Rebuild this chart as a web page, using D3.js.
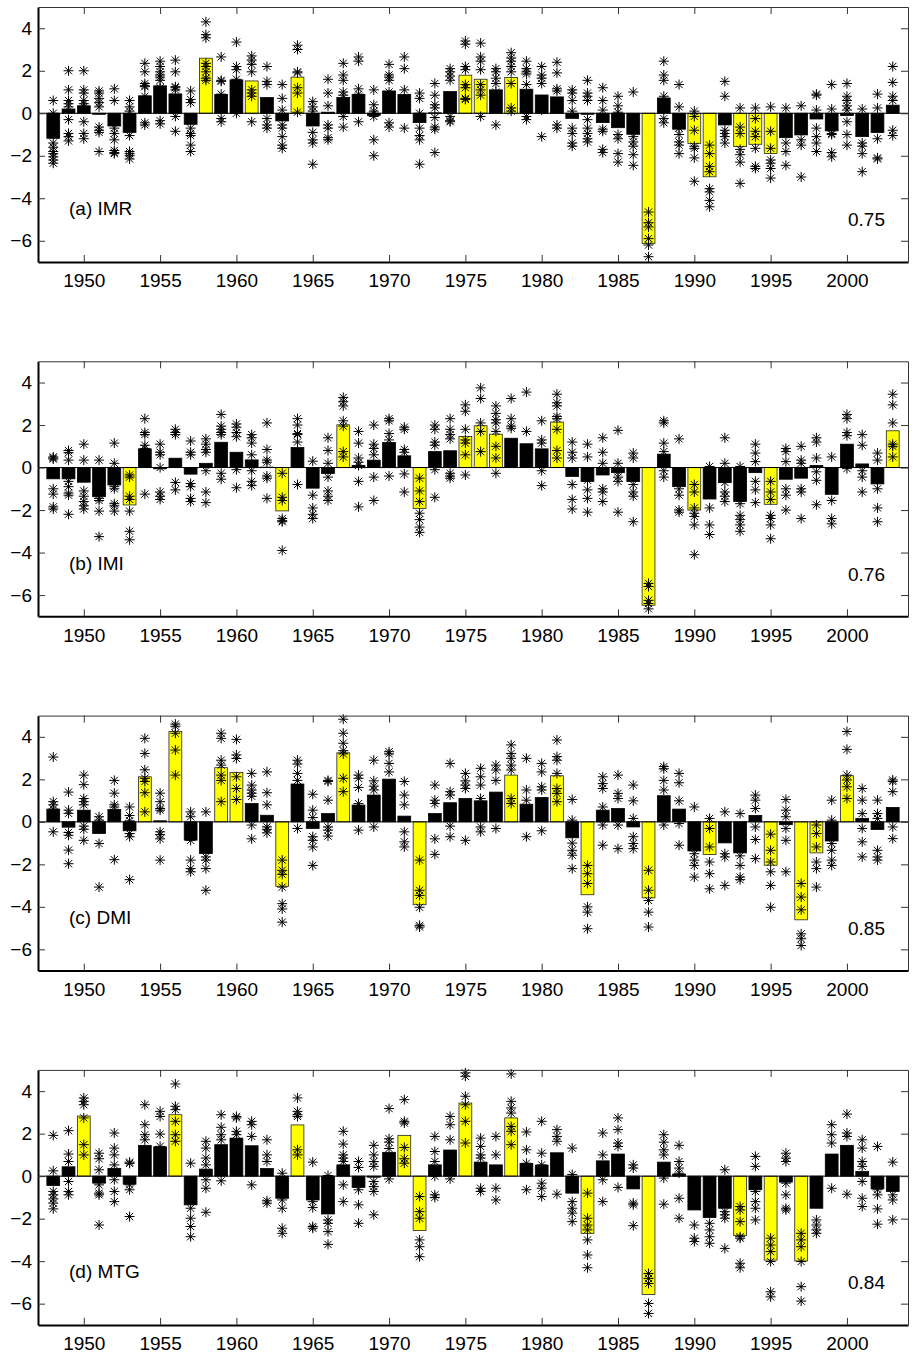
<!DOCTYPE html>
<html>
<head>
<meta charset="utf-8">
<script src="https://cdn.jsdelivr.net/npm/d3@7"></script>
<style>
body { margin: 0; background: #fff; }
svg { display: block; }
text { font-family: "Liberation Sans", Arial, Helvetica, sans-serif; }
</style>
</head>
<body>
<svg id="chart" width="914" height="1353"></svg>
<script>
// Years and axis ticks
var YEARS = d3.range(1948, 2004);
var X_TICKS = [1950, 1955, 1960, 1965, 1970, 1975, 1980, 1985, 1990, 1995, 2000];
var Y_TICKS = [-6, -4, -2, 0, 2, 4];

var PANEL_LABELS = ["(a) IMR", "(b) IMI", "(c) DMI", "(d) MTG"];
var SCORES = ["0.75", "0.76", "0.85", "0.84"];

// Observed index (bars), 1948-2003
var imrBars = [-1.18, 0.2, 0.35, -0.05, -0.6, -0.9, 0.82, 1.29, 0.91, -0.52,
  2.59, 0.88, 1.57, 1.52, 0.74, -0.36, 1.7, -0.6, 0.05, 0.74,
  0.88, -0.1, 1.05, 0.88, -0.44, 0.02, 1.02, 1.79, 1.6, 1.1,
  1.68, 1.13, 0.86, 0.77, -0.24, -0.05, -0.44, -0.68, -0.99, -6.13,
  0.72, -0.75, -1.42, -2.99, -0.55, -1.57, -1.46, -1.89, -1.15, -1.02,
  -0.27, -0.83, -0.11, -1.1, -0.91, 0.38];
var imiBars = [-0.53, -0.53, -0.69, -1.37, -0.82, -1.76, 0.88, -0.06, 0.44, -0.31,
  0.2, 1.19, 0.72, 0.36, 0.02, -2.04, 0.94, -0.97, -0.28, 2.01,
  0.1, 0.35, 1.18, 0.55, -1.92, 0.75, 0.79, 1.46, 1.97, 1.57,
  1.38, 1.12, 0.88, 2.14, -0.42, -0.66, -0.35, -0.24, -0.66, -6.48,
  0.63, -0.9, -2.0, -1.48, -0.71, -1.6, -0.24, -1.73, -0.55, -0.5,
  0.1, -1.26, 1.1, 0.17, -0.77, 1.73];
var dmiBars = [0.6, -0.25, 0.55, -0.55, 0.58, -0.42, 2.12, 0.05, 4.25, -0.86,
  -1.49, 2.55, 2.33, 0.86, 0.31, -3.03, 1.78, -0.31, 0.39, 3.25,
  0.79, 1.26, 2.01, 0.27, -3.9, 0.39, 0.9, 1.1, 0.99, 1.4,
  2.2, 0.83, 1.15, 2.17, -0.75, -3.43, 0.55, 0.63, -0.24, -3.58,
  1.23, 0.6, -1.37, -1.54, -0.99, -1.46, 0.3, -2.04, -0.13, -4.61,
  -1.46, -0.9, 2.17, 0.16, -0.36, 0.68];
var mtgBars = [-0.44, 0.44, 2.83, -0.33, 0.36, -0.38, 1.45, 1.38, 2.89, -1.35,
  0.33, 1.48, 1.79, 1.43, 0.36, -1.04, 2.41, -1.12, -1.78, 0.53,
  -0.53, -0.05, 1.12, 1.92, -2.56, 0.53, 1.23, 3.44, 0.66, 0.53,
  2.74, 0.6, 0.52, 1.1, -0.8, -2.69, 0.72, 1.04, -0.6, -5.57,
  0.66, 0.1, -1.59, -1.95, -1.51, -2.8, -0.64, -3.95, -0.28, -3.99,
  -1.51, 1.04, 1.45, 0.22, -0.6, -0.72];

// Highlighted (yellow) years
var imrYellow = [1958, 1961, 1964, 1975, 1976, 1978, 1987, 1990, 1991, 1993, 1994, 1995];
var imiYellow = [1953, 1963, 1967, 1972, 1975, 1976, 1977, 1981, 1987, 1990, 1995, 2003];
var dmiYellow = [1954, 1956, 1959, 1960, 1963, 1967, 1972, 1978, 1981, 1983, 1987, 1991, 1995, 1997, 1998, 2000];
var mtgYellow = [1950, 1956, 1964, 1971, 1972, 1975, 1978, 1983, 1987, 1993, 1995, 1997];

// Ensemble members (asterisks), one list per year 1948-2003
var imrMembers = [
  [0.6,0.0,-1.4,-1.6,-1.8,-1.9,-2.05,-2.2,-2.35], [2.0,1.1,0.6,0.45,0.3,-0.3,-0.95,-1.1,-1.3],
  [2.0,1.1,0.95,0.6,0.45,0.3,-0.4,-0.95,-1.2], [1.05,0.95,0.7,0.5,0.3,-0.65,-0.8,-0.9,-1.8],
  [1.15,0.6,-0.7,-0.95,-1.25,-1.75,-1.85,-1.9], [0.6,0.3,0.1,-1.05,-1.8,-1.9,-2.0,-2.15],
  [2.35,1.95,1.4,1.3,1.25,0.8,-0.45,-0.55], [2.45,2.2,1.95,1.8,1.7,1.55,1.2,-0.35,-0.5],
  [2.5,1.95,1.25,1.2,1.1,0.5,-0.15,-0.85], [1.05,0.65,0.5,-0.7,-0.95,-1.05,-1.5,-1.8],
  [4.3,3.7,3.55,2.35,2.2,1.95,1.65,1.55], [2.65,1.55,1.5,0.9,0.3,-0.25,-0.4],
  [3.35,2.2,2.05,1.6,1.2,0.8,0.0], [2.7,2.5,2.3,1.95,1.1,0.95,0.8,-0.4],
  [2.2,1.5,1.35,0.3,-0.25,-0.55,-0.7], [1.35,0.7,0.15,-0.55,-0.7,-1.1,-1.5,-1.65],
  [3.2,3.0,1.95,1.9,1.2,0.95,0.05], [0.55,0.3,0.1,-0.9,-1.25,-1.4,-2.4],
  [1.6,0.95,0.35,-0.55,-0.7,-1.15,-1.25], [2.35,1.8,1.55,1.0,0.85,-0.15,-0.65],
  [2.65,2.45,1.15,0.9,0.5,-0.4], [1.1,0.4,0.1,0.0,-0.15,-1.25,-2.0],
  [2.3,1.8,1.7,1.55,1.0,-0.45,-0.65], [2.65,2.1,1.1,0.5,-0.7],
  [0.95,0.7,0.0,-0.7,-1.05,-1.25,-2.4], [1.4,0.85,0.4,0.25,-0.2,-0.65,-0.75,-1.85],
  [2.1,1.95,1.75,1.55,-0.15,-0.35,-0.4], [3.4,3.25,2.2,2.05,1.35,1.2,0.7,0.65],
  [3.3,2.65,2.45,2.05,1.35,1.1,0.85,-0.15], [2.1,1.95,1.65,1.4,1.0,-0.55],
  [2.85,2.6,2.45,2.2,1.95,1.4,0.25,0.1], [2.45,2.1,1.95,1.85,1.35,-0.15,-0.3],
  [2.2,1.8,1.65,1.4,0.5,0.15,-1.1], [2.4,1.9,1.15,1.05,-0.55,-0.7],
  [1.1,0.95,0.6,0.1,-0.7,-0.95,-1.4,-1.55], [1.55,0.95,0.8,0.6,-0.3,-0.7,-0.95,-1.2,-1.35],
  [1.2,0.6,0.15,-0.75,-0.85,-1.7,-1.85], [0.8,0.35,0.05,-1.0,-1.2,-1.9,-2.3],
  [1.0,-1.1,-1.35,-1.55,-1.95,-2.45], [-4.65,-5.15,-5.35,-5.9,-6.2,-6.75],
  [2.45,1.8,1.55,0.8,-0.25,-0.45], [1.35,0.3,-0.7,-1.0,-1.35,-1.5,-1.9],
  [0.1,-0.15,-0.8,-1.55,-1.65,-2.1,-3.2], [-1.5,-1.9,-2.5,-2.75,-3.55,-3.7,-4.1,-4.4],
  [1.5,0.8,-0.8,-0.95,-1.1,-1.4], [0.25,-0.65,-0.95,-1.7,-1.95,-2.3,-3.3],
  [0.25,-0.25,-0.85,-1.1,-1.65,-2.5,-2.6], [0.3,-0.85,-1.65,-2.2,-2.35,-2.6,-3.05],
  [0.25,-0.5,-1.4,-1.8,-2.45], [0.35,-0.5,-1.25,-1.5,-3.0],
  [0.9,0.85,0.15,-0.7,-1.1,-1.4,-1.8], [1.35,0.2,-0.95,-1.0,-1.85,-2.05],
  [1.4,0.8,0.6,0.35,0.15,-0.4,-1.0,-1.5], [0.2,-1.4,-1.55,-1.9,-2.75],
  [0.9,0.25,-1.2,-2.1,-2.15], [2.2,1.45,0.8,0.6,-0.8,-1.05]
];
var imiMembers = [
  [0.5,0.45,0.4,-1.0,-1.25,-1.85,-1.95], [0.8,0.7,0.35,-0.65,-0.9,-1.2,-1.3,-2.2],
  [1.1,0.35,-1.1,-1.35,-1.6,-1.8,-1.95], [0.35,-1.0,-1.45,-1.55,-2.05,-3.25],
  [1.15,0.2,-0.9,-1.0,-1.7,-1.8,-2.05], [-0.35,-0.45,-1.35,-1.5,-2.05,-3.0,-3.4],
  [2.3,1.65,1.55,1.05,0.9,-1.25], [1.1,0.72,0.6,0.0,-1.15,-1.35,-1.5],
  [1.8,1.65,1.55,-0.7,-1.05], [1.25,0.72,0.6,-0.75,-0.9,-1.45,-1.6],
  [1.35,1.1,0.85,0.72,-0.15,-1.15,-1.65], [2.5,1.95,1.8,1.65,1.55,-0.27,-0.55],
  [2.05,1.9,1.65,1.45,-0.1,-0.95], [1.55,1.4,1.15,0.6,-0.15,-0.65,-0.85],
  [2.1,0.85,0.35,0.25,-0.4,-0.5,-1.45], [-0.27,-1.4,-1.55,-2.4,-2.5,-2.55,-3.9],
  [2.3,2.0,1.6,1.55,1.2,-0.8], [0.3,-0.5,-1.3,-1.9,-2.2,-2.4],
  [1.4,0.8,0.2,-0.45,-1.1,-1.35,-1.55], [3.3,3.1,2.9,2.2,1.95,0.75,0.5],
  [1.7,1.15,0.45,0.25,0.1,-0.65,-1.85], [2.0,1.1,0.9,0.6,-0.45,-1.55],
  [2.3,2.2,1.6,1.3,-0.4], [1.9,1.8,0.85,0.72,-0.3,-1.15],
  [-0.5,-1.1,-1.6,-2.15,-2.45,-2.8,-3.05], [2.0,1.8,1.2,1.05,-0.1,-1.4],
  [2.3,1.8,1.55,1.35,-0.27,-0.4,-0.5], [2.95,2.65,1.8,1.3,1.15,0.6,-0.35],
  [3.75,3.25,2.1,1.7,0.75], [2.9,2.55,2.25,2.1,1.7,1.0,0.45,-0.27],
  [3.25,2.3,1.95,1.85,0.5], [3.55,1.7,0.5],
  [2.2,1.3,1.15,-0.15,-0.85], [3.45,3.05,2.9,2.4,2.3,1.8,0.8,0.45],
  [1.2,0.72,0.45,-0.8,-1.5,-1.95], [1.1,0.5,-0.6,-1.05,-1.45,-2.1],
  [1.4,0.72,0.2,-1.0,-1.15,-1.6], [1.75,0.2,-0.2,-0.45,-0.65,-2.1],
  [0.68,0.45,-0.8,-1.15,-1.35,-2.55], [-5.45,-5.6,-6.25,-6.4,-6.65],
  [2.2,2.1,1.15,0.75,-0.15,-0.45], [1.35,-1.0,-1.3,-2.0,-2.1],
  [-0.8,-1.15,-1.9,-2.15,-2.3,-2.7,-4.1], [0.05,-0.7,-1.9,-2.7,-3.15],
  [1.4,0.2,-0.7,-1.15,-1.35,-1.6], [0.05,-1.7,-2.25,-2.45,-2.7,-3.0],
  [1.1,0.68,0.28,-0.65,-1.05,-1.65], [-0.65,-1.15,-1.5,-2.25,-2.4,-2.7,-3.35],
  [0.9,0.75,0.28,-1.0,-1.3,-2.0], [1.0,0.35,0.2,-1.0,-1.15,-2.4],
  [1.4,1.2,0.45,-0.2,-0.6,-1.75], [0.5,-1.55,-2.4,-2.65],
  [2.5,2.3,1.65,1.5,-0.05], [1.55,1.05,-0.15,-0.45,-1.15],
  [0.68,0.35,-1.0,-1.9,-2.55], [3.45,2.95,2.1,1.1,1.0,0.5]
];
var dmiMembers = [
  [3.05,0.95,0.8,0.6,-0.47], [1.4,0.55,0.4,-0.5,-0.63,-1.33,-1.97],
  [2.2,1.75,1.1,0.95,0.8,-0.2,-0.35,-0.87], [0.24,0.08,-0.3,-1.02,-3.07],
  [1.95,1.35,0.8,0.7,-1.78], [0.7,0.3,0.05,-0.55,-0.7,-2.72],
  [3.93,3.22,2.45,2.05,1.9,1.37,0.47], [1.35,0.95,0.63,0.55,-0.47,-0.6,-0.8,-1.8],
  [4.6,4.5,4.17,3.38,2.2], [0.47,0.24,-0.87,-1.8,-2.2,-2.35],
  [0.47,-1.3,-1.65,-1.8,-2.2,-3.22], [4.17,3.93,2.9,2.67,2.2,1.95,0.95],
  [3.88,3.15,2.98,2.12,1.57,1.05], [2.28,1.73,1.5,1.35,1.2,-0.15,-0.8],
  [2.35,1.37,0.8,-0.24,-0.35,-0.52], [-1.8,-2.28,-2.47,-3.07,-3.85,-4.1,-4.72],
  [2.9,2.72,2.28,1.95,-0.31], [1.3,0.55,0.2,-0.7,-0.87,-1.18,-2.05],
  [1.95,1.9,1.02,-0.24,-0.39,-0.67], [4.83,4.17,3.7,3.35,3.2,2.05,1.42],
  [2.2,2.05,1.62,0.86,-0.39], [2.9,1.93,1.68,1.5,-0.24],
  [3.3,3.2,2.75,2.35], [1.9,1.26,0.8,-0.47,-0.94,-1.18],
  [-1.8,-3.22,-3.46,-4.02,-4.87,-4.95], [1.73,1.02,0.86,-0.8,-1.53],
  [2.75,1.42,1.26,-0.2,-0.7], [2.28,1.93,1.73,1.57,-0.87],
  [2.52,2.12,1.73,1.1,-0.24,-0.47], [2.67,2.44,1.95,-0.31],
  [3.62,3.22,2.99,2.67,2.44,1.1,0.86], [2.99,1.5,1.02,-0.7],
  [2.75,2.35,1.65,1.5,-0.42], [3.85,3.07,2.9,2.28,1.57,1.34,0.95],
  [1.05,0.08,-1.0,-1.34,-1.57,-2.2], [-2.05,-2.44,-2.9,-4.0,-4.25,-5.03],
  [2.12,1.8,1.57,0.7,-0.15,-1.1], [2.2,1.34,1.1,-0.15,-1.26],
  [1.73,0.99,0.16,-0.7,-1.02,-1.26], [-2.28,-3.22,-3.7,-4.25,-4.95],
  [2.6,2.5,1.95,1.5,-0.15], [2.28,1.84,0.99,-0.08,-1.1],
  [0.7,-1.5,-1.8,-2.05,-2.6], [0.16,-0.31,-1.18,-1.89,-2.44,-3.15],
  [0.47,-1.5,-1.65,-2.99], [0.39,-1.6,-2.05,-2.6,-2.72],
  [1.26,1.02,0.63,-0.24,-0.83,-1.73], [-0.58,-1.34,-1.89,-2.35,-2.99,-4.02],
  [1.05,0.55,0.24,-0.31,-0.87,-2.35], [-2.9,-3.54,-4.14,-5.27,-5.5,-5.82],
  [-0.15,-0.55,-1.18,-1.89,-2.2,-3.07], [1.02,0.08,-1.02,-1.34,-1.8,-2.05],
  [4.25,3.41,2.2,1.97,1.65,1.1], [1.57,1.02,0.39,-0.31,-0.94,-1.65],
  [1.02,0.39,0.16,-1.34,-1.65,-1.8], [1.97,1.9,1.42,-0.24,-0.79]
];
var mtgMembers = [
  [1.92,0.25,-0.72,-0.88,-1.07,-1.27,-1.54], [2.14,1.04,0.69,-0.25,-0.72,-0.88],
  [3.68,3.52,3.36,2.74,1.48,1.0], [1.08,0.82,0.3,-0.41,-0.8,-0.88,-2.3],
  [2.03,1.32,1.0,0.53,-0.17,-0.72,-1.2], [0.66,0.6,-0.41,-0.64,-1.9],
  [3.36,2.42,1.95,1.71], [3.05,2.81,1.98,1.4],
  [4.34,3.29,3.13,2.58,1.95,1.64], [0.61,-1.51,-1.98,-2.37,-2.85],
  [1.64,1.32,0.85,0.53,-0.17,-0.57,-1.7], [2.89,2.3,1.95,1.71,-0.22],
  [2.81,2.74,2.11,1.95], [2.58,2.42,1.87,-0.41],
  [1.71,1.0,0.69,-1.16,-1.27], [0.14,-1.12,-1.51,-2.45,-2.69],
  [3.68,3.05,2.89,2.81,1.24,1.0], [0.66,-1.2,-1.48,-2.37,-2.45],
  [0.03,-2.06,-2.22,-2.61,-3.21], [2.11,1.51,1.0,0.85,0.69,-0.41,-1.2],
  [0.69,0.41,-0.64,-1.35,-2.22], [1.45,1.0,0.69,0.46,-0.25,-0.49,-0.72,-1.82],
  [3.18,1.76,1.6,1.3,-0.13], [3.6,2.58,2.5,1.35,0.82,0.61],
  [-0.96,-1.67,-1.98,-3.0,-3.32,-3.79], [1.87,1.16,0.69,0.0,-0.88,-1.0],
  [2.81,2.42,1.71,-0.13], [4.86,4.7,3.76,3.36,2.58,1.56],
  [1.79,1.4,1.0,0.85,-0.57,-0.72], [1.87,1.0,-0.57,-1.12],
  [4.81,3.52,3.21,2.97,2.34,2.11,1.48], [2.08,1.24,0.61,-0.64],
  [2.58,1.08,0.53,-0.33,-0.57,-0.96], [2.19,1.87,1.64,-0.85],
  [1.32,0.08,-1.2,-1.51,-1.74,-2.14], [-0.8,-1.98,-2.3,-2.53,-3.0,-3.71,-4.31],
  [2.03,1.0,-0.17,-1.2], [2.74,2.19,1.56,1.4,-0.53],
  [0.53,0.38,-1.27,-1.35,-2.33], [-4.58,-4.81,-5.05,-5.99,-6.46],
  [1.95,1.6,1.24,1.0,-0.09,-1.32], [1.45,0.69,0.38,0.14,-1.04,-1.98],
  [-1.0,-2.3,-2.92,-3.08], [-1.3,-2.22,-2.53,-2.85,-3.16],
  [0.3,-1.67,-1.82,-1.98,-3.4], [-1.43,-1.59,-2.14,-2.85,-2.92,-4.1,-4.31],
  [0.93,0.46,-0.72,-1.2,-1.51,-2.06], [-2.92,-3.24,-3.55,-4.02,-5.44,-5.68],
  [1.08,0.85,0.69,-0.33,-0.88,-1.51,-1.59], [-2.69,-3.0,-3.32,-4.02,-5.2,-5.88],
  [-1.2,-2.06,-2.3,-2.53,-2.69], [2.42,1.95,1.56,-0.57],
  [2.92,2.03,1.87,-0.85], [1.71,1.32,0.69,0.46,-0.25,-1.04,-1.43],
  [1.4,-0.64,-0.88,-1.54,-2.26], [0.66,-0.88,-1.12,-2.06]
];

var panels = [
  { bars: imrBars, yellow: imrYellow, members: imrMembers },
  { bars: imiBars, yellow: imiYellow, members: imiMembers },
  { bars: dmiBars, yellow: dmiYellow, members: dmiMembers },
  { bars: mtgBars, yellow: mtgYellow, members: mtgMembers }
];

var svg = d3.select("#chart");
var left = 38, right = 908, panelH = 255, top0 = 7, step = 354.3;
var FONT = 19;

var x = d3.scaleLinear().domain([1947, 2004]).range([left, right]);
var barW = x(1947.84) - x(1947);

// asterisk = plus + cross
var r = 5, d = 3.6;
var starPath = "M" + (-r) + ",0H" + r + "M0," + (-r) + "V" + r +
  "M" + (-d) + "," + (-d) + "L" + d + "," + d + "M" + (-d) + "," + d + "L" + d + "," + (-d);

panels.forEach(function (p, i) {
  var top = top0 + i * step;
  var y = d3.scaleLinear().domain([-7, 5]).range([top + panelH, top]);
  var g = svg.append("g");

  var rows = YEARS.map(function (yr, k) {
    return { year: yr, value: p.bars[k], hi: p.yellow.indexOf(yr) >= 0, members: p.members[k] };
  });

  // bars
  g.selectAll("rect.bar")
    .data(rows)
    .enter()
    .append("rect")
    .attr("class", "bar")
    .attr("x", function (e) { return x(e.year) - barW / 2; })
    .attr("width", barW)
    .attr("y", function (e) { return y(Math.max(0, e.value)); })
    .attr("height", function (e) { return Math.abs(y(e.value) - y(0)); })
    .attr("fill", function (e) { return e.hi ? "#ffff00" : "#000"; })
    .attr("stroke", function (e) { return e.hi ? "#222" : "#000"; })
    .attr("stroke-width", 0.8);

  // baseline at zero
  g.append("line")
    .attr("x1", left).attr("x2", right)
    .attr("y1", y(0)).attr("y2", y(0))
    .attr("stroke", "#000").attr("stroke-width", 1);

  // ensemble members
  var pts = [];
  rows.forEach(function (e) {
    e.members.forEach(function (v) { pts.push({ year: e.year, v: v }); });
  });
  g.selectAll("path.star")
    .data(pts)
    .enter()
    .append("path")
    .attr("class", "star")
    .attr("d", starPath)
    .attr("transform", function (e) { return "translate(" + x(e.year) + "," + y(e.v) + ")"; })
    .attr("fill", "none")
    .attr("stroke", "#000")
    .attr("stroke-width", 1);

  // axes (ticks inside, box on)
  var bottom = g.append("g")
    .attr("transform", "translate(0," + (top + panelH) + ")")
    .call(d3.axisBottom(x).tickValues(X_TICKS).tickFormat(d3.format("d"))
      .tickSizeInner(-7).tickSizeOuter(0).tickPadding(12));
  var leftAx = g.append("g")
    .attr("transform", "translate(" + left + ",0)")
    .call(d3.axisLeft(y).tickValues(Y_TICKS).tickSizeInner(-7).tickSizeOuter(0).tickPadding(6));
  var topAx = g.append("g")
    .attr("transform", "translate(0," + top + ")")
    .call(d3.axisTop(x).tickValues(X_TICKS).tickFormat("").tickSizeInner(-7).tickSizeOuter(0));
  var rightAx = g.append("g")
    .attr("transform", "translate(" + right + ",0)")
    .call(d3.axisRight(y).tickValues(Y_TICKS).tickFormat("").tickSizeInner(-7).tickSizeOuter(0));

  [bottom, leftAx].forEach(function (a) {
    a.select(".domain").attr("stroke", "#000").attr("stroke-width", 2);
  });
  [topAx, rightAx].forEach(function (a) {
    a.select(".domain").attr("stroke", "#333").attr("stroke-width", 1);
  });
  [bottom, leftAx, topAx, rightAx].forEach(function (a) {
    a.selectAll(".tick line").attr("stroke", "#333");
    a.selectAll("text").attr("font-size", FONT).attr("fill", "#000")
      .style("font-family", "'Liberation Sans', Arial, sans-serif");
  });

  // panel label and score
  g.append("text")
    .attr("x", left + 31)
    .attr("y", y(0) + 102)
    .attr("font-size", FONT)
    .text(PANEL_LABELS[i]);
  g.append("text")
    .attr("x", right - 23)
    .attr("y", y(0) + 113)
    .attr("text-anchor", "end")
    .attr("font-size", FONT)
    .text(SCORES[i]);
});
</script>
</body>
</html>
